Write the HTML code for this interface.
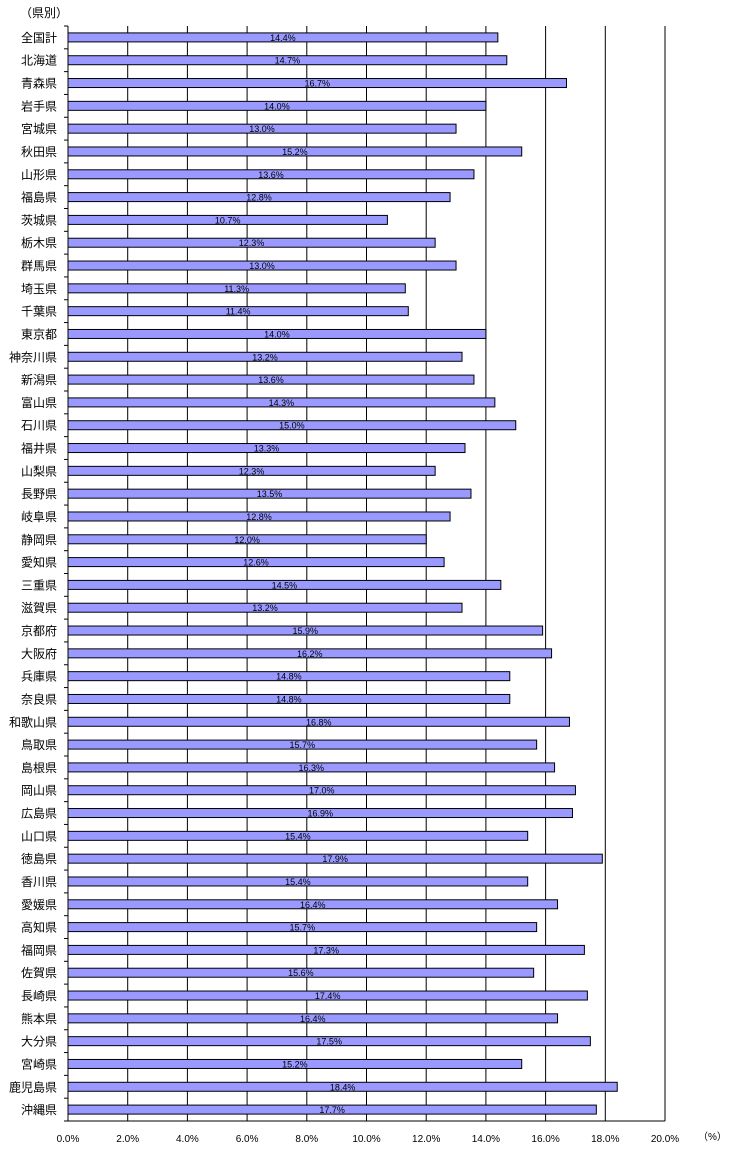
<!DOCTYPE html>
<html><head><meta charset="utf-8"><style>
body{margin:0;background:#fff;}
svg{display:block;font-family:"Liberation Sans","Noto Sans CJK JP",sans-serif;}
</style></head><body>
<svg id="chart" width="742" height="1156">
<text x="20" y="17" font-size="12">（県別）</text>
<text x="698" y="1140" font-size="10">（%）</text>
<g id="grid"></g><g id="bars"></g><g id="axes"></g>
</svg>
<script>
const categories=["全国計","北海道","青森県","岩手県","宮城県","秋田県","山形県","福島県","茨城県","栃木県","群馬県","埼玉県","千葉県","東京都","神奈川県","新潟県","富山県","石川県","福井県","山梨県","長野県","岐阜県","静岡県","愛知県","三重県","滋賀県","京都府","大阪府","兵庫県","奈良県","和歌山県","鳥取県","島根県","岡山県","広島県","山口県","徳島県","香川県","愛媛県","高知県","福岡県","佐賀県","長崎県","熊本県","大分県","宮崎県","鹿児島県","沖縄県"];
const values=[14.4,14.7,16.7,14.0,13.0,15.2,13.6,12.8,10.7,12.3,13.0,11.3,11.4,14.0,13.2,13.6,14.3,15.0,13.3,12.3,13.5,12.8,12.0,12.6,14.5,13.2,15.9,16.2,14.8,14.8,16.8,15.7,16.3,17.0,16.9,15.4,17.9,15.4,16.4,15.7,17.3,15.6,17.4,16.4,17.5,15.2,18.4,17.7];
const ticks=[0,2,4,6,8,10,12,14,16,18,20];
const tickLabels=["0.0%","2.0%","4.0%","6.0%","8.0%","10.0%","12.0%","14.0%","16.0%","18.0%","20.0%"];
const NS="http://www.w3.org/2000/svg";
const X0=68,X1=665,Y0=26,Y1=1121,XMAX=20;
const xs=v=>X0+v/XMAX*(X1-X0);
const band=(Y1-Y0)/categories.length;
const yc=i=>Y0+band*(i+0.5);
function mk(tag,attrs,parent){const e=document.createElementNS(NS,tag);for(const k in attrs)e.setAttribute(k,attrs[k]);parent.appendChild(e);return e;}
const grid=document.getElementById('grid'),bars=document.getElementById('bars'),axes=document.getElementById('axes');
ticks.forEach((t,i)=>{
  if(t>0){const l=mk('line',{x1:xs(t),x2:xs(t),y1:Y0,y2:Y1,stroke:'#000','stroke-width':1},grid);
  
  }
  const tx=mk('text',{x:xs(t),y:1142,'font-size':10,'text-anchor':'middle'},axes);
  tx.textContent=tickLabels[i];
  
  
});
categories.forEach((c,i)=>{
  const r=mk('rect',{x:X0,y:yc(i)-4.5,width:xs(values[i])-X0,height:9,fill:'#9999ff',stroke:'#000','stroke-width':1},bars);
  
  
  const v=mk('text',{x:(X0+xs(values[i]))/2,y:yc(i)+3.5,'font-size':9,'text-anchor':'middle'},bars);
  v.textContent=values[i].toFixed(1)+'%';
  
  
  const lb=mk('text',{x:57,y:yc(i)+4.5,'font-size':12,'text-anchor':'end'},axes);
  lb.textContent=c;
  
  
});
for(let i=0;i<=categories.length;i++){
  const y=Y0+band*i;
  mk('line',{x1:X0-4,x2:X0,y1:y,y2:y,stroke:'#000','stroke-width':1},axes);
}
const ya=mk('line',{x1:X0,x2:X0,y1:Y0,y2:Y1,stroke:'#000','stroke-width':1},axes);


const xa=mk('line',{x1:X0,x2:X1,y1:Y1,y2:Y1,stroke:'#000','stroke-width':1},axes);


</script>
</body></html>
